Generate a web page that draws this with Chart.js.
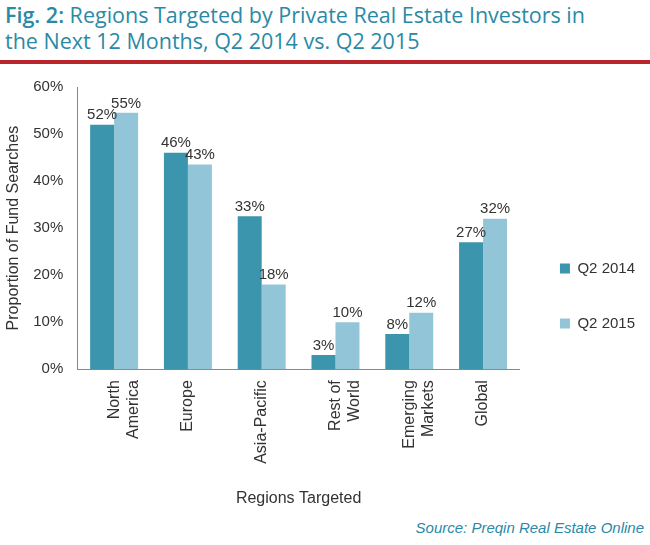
<!DOCTYPE html>
<html><head>
<script src="https://cdn.jsdelivr.net/npm/chart.js@4"></script>
<style>
body{margin:0;width:650px;height:545px;background:#fff;font-family:"Century Gothic","DejaVu Sans",sans-serif;overflow:hidden}
#title{position:absolute;left:5px;top:2px;font-size:21.5px;line-height:26px;color:#2a8aa6;font-family:"Open Sans",sans-serif}
#title b{font-weight:600}
#rule{position:absolute;left:0;top:60px;width:650px;height:4px;background:#b8262b}
#wrap{position:absolute;left:0;top:72px;width:650px;height:440px}
#src{position:absolute;right:6px;top:519px;font-style:italic;color:#2a8aa6;font-size:15px;font-family:"Liberation Sans",sans-serif}
</style></head><body>
<div id="title"><b>Fig. 2:</b> Regions Targeted by Private Real Estate Investors in<br>the Next 12 Months, Q2 2014 vs. Q2 2015</div>
<div id="rule"></div>
<div id="wrap"><canvas id="c"></canvas></div>
<div id="src">Source: Preqin Real Estate Online</div>
<script>
const categories = [['North','America'], 'Europe', 'Asia-Pacific', ['Rest of','World'], ['Emerging','Markets'], 'Global'];
const q2014 = [52, 46, 32.5, 3, 7.5, 27];
const q2015 = [54.5, 43.5, 18, 10, 12, 32];
const labels2014 = ['52%', '46%', '33%', '3%', '8%', '27%'];
const labels2015 = ['55%', '43%', '18%', '10%', '12%', '32%'];

const barLabels = {
  id: 'barLabels',
  afterDatasetsDraw(chart) {
    const ctx = chart.ctx;
    ctx.save();
    ctx.font = '15px "Liberation Sans", sans-serif';
    ctx.fillStyle = '#333';
    ctx.textAlign = 'center';
    ctx.textBaseline = 'bottom';
    [labels2014, labels2015].forEach((txt, di) => {
      chart.getDatasetMeta(di).data.forEach((bar, i) => {
        ctx.fillText(txt[i], bar.x, bar.y - 2);
      });
    });
    ctx.restore();
  }
};

new Chart(document.getElementById('c'), {
  type: 'bar',
  data: {
    labels: categories,
    datasets: [
      { label: 'Q2 2014', data: q2014, backgroundColor: '#3a95ad' },
      { label: 'Q2 2015', data: q2015, backgroundColor: '#93c5d8' }
    ]
  },
  options: {
    responsive: true,
    maintainAspectRatio: false,
    animation: false,
    datasets: { bar: { categoryPercentage: 0.65, barPercentage: 1 } },
    layout: { padding: { left: 0, right: 5, top: 8 } },
    plugins: {
      legend: {
        position: 'right',
        labels: { boxWidth: 10, boxHeight: 10, padding: 40, color: '#333', font: { size: 15, family: '"Liberation Sans", sans-serif' } }
      },
      tooltip: { enabled: false }
    },
    scales: {
      x: {
        grid: { display: false },
        border: { color: '#888' },
        ticks: { minRotation: 90, maxRotation: 90, color: '#333', font: { size: 16, family: '"Liberation Sans", sans-serif' } },
        title: { display: true, text: 'Regions Targeted', color: '#333', font: { size: 16, family: '"Liberation Sans", sans-serif' }, padding: { top: 22 } }
      },
      y: {
        min: 0, max: 60,
        ticks: { stepSize: 10, callback: v => v + '%', color: '#333', padding: 6, font: { size: 15, family: '"Liberation Sans", sans-serif' } },
        grid: { display: false },
        border: { color: '#888' },
        title: { display: true, text: 'Proportion of Fund Searches', color: '#333', font: { size: 16, family: '"Liberation Sans", sans-serif' } }
      }
    }
  },
  plugins: [barLabels]
});
</script>
</body></html>
